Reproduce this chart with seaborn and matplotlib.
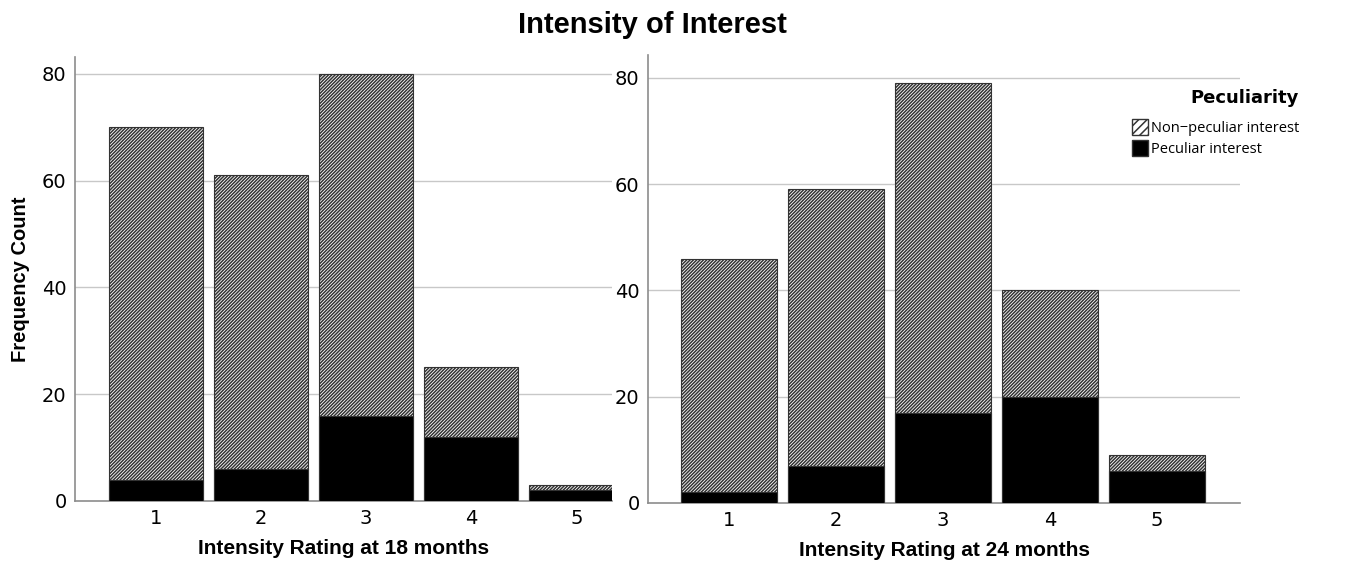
import matplotlib
matplotlib.use("Agg")
import matplotlib.pyplot as plt
import matplotlib.patches as mpatches
import seaborn as sns
import pandas as pd

ratings = ["1", "2", "3", "4", "5"]
total_18 = [70, 61, 80, 25, 3]
peculiar_18 = [4, 6, 16, 12, 2]
total_24 = [46, 59, 79, 40, 9]
peculiar_24 = [2, 7, 17, 20, 6]
yticks = [0, 20, 40, 60, 80]

sns.set_theme(style="white")
plt.rcParams["font.family"] = ["DejaVu Sans"]
plt.rcParams["hatch.linewidth"] = 1.1
plt.rcParams["text.color"] = "black"
plt.rcParams["axes.labelcolor"] = "black"

fig = plt.figure(figsize=(13.54, 5.61), dpi=100)
ax1 = fig.add_axes([0.0554, 0.107, 0.3966, 0.791])
ax2 = fig.add_axes([0.4786, 0.1034, 0.4374, 0.7986])

grid_c = "#c8c8c8"
spine_c = "#8c8c8c"
bold_font = dict(family=["Liberation Sans"], fontweight="bold", fontstretch="normal")
HATCH = "/" * 10


def draw(ax, totals, peculiar, xlabel, xlim, ylim):
    df = pd.DataFrame({"rating": ratings, "total": totals, "peculiar": peculiar})
    for yv in yticks[1:]:
        ax.axhline(yv, color=grid_c, lw=1.0, zorder=0)
    sns.barplot(data=df, x="rating", y="total", color="white", width=0.9,
                edgecolor="#333333", linewidth=0.8, saturation=1, ax=ax, zorder=2)
    for p in ax.patches:
        p.set_hatch(HATCH)
    sns.barplot(data=df, x="rating", y="peculiar", color="black", width=0.9,
                edgecolor="#333333", linewidth=0.8, saturation=1, ax=ax, zorder=3)
    ax.set_xlim(*xlim)
    ax.set_ylim(*ylim)
    ax.set_yticks(yticks)
    ax.set_xlabel(xlabel, fontsize=15, labelpad=8, **bold_font)
    ax.set_ylabel("")
    ax.tick_params(axis="both", length=0, labelsize=14, pad=6, colors="black")
    for s in ["top", "right"]:
        ax.spines[s].set_visible(False)
    for s in ["left", "bottom"]:
        ax.spines[s].set_color(spine_c)
        ax.spines[s].set_linewidth(1.2)


draw(ax1, total_18, peculiar_18, "Intensity Rating at 18 months", (-0.77, 4.34), (0, 83.1))
draw(ax2, total_24, peculiar_24, "Intensity Rating at 24 months", (-0.76, 4.78), (0, 84.3))

ax1.set_ylabel("Frequency Count", fontsize=14.5, labelpad=9, **bold_font)

fig.suptitle("Intensity of Interest", x=0.482, y=0.98, fontsize=21, **bold_font)

handles = [mpatches.Patch(facecolor="white", edgecolor="#333333", hatch="////",
                          label="Non\u2212peculiar interest"),
           mpatches.Patch(facecolor="black", edgecolor="#333333",
                          label="Peculiar interest")]
leg = ax2.legend(handles=handles, title="Peculiarity", loc="upper right",
                 bbox_to_anchor=(1.099, 0.923), frameon=False,
                 prop=dict(family=["Open Sans"], size=10.5),
                 handlelength=1.1, handleheight=1.35, handletextpad=0.2,
                 labelspacing=0.3, borderaxespad=0, borderpad=0,
                 alignment="right")
leg.get_title().set_fontweight("bold")
leg.get_title().set_fontsize(13)
leg.get_title().set_color("black")
leg._legend_box.sep = 8
for t in leg.get_texts():
    t.set_color("black")
leg.set_zorder(5)

fig.savefig("out.png", dpi=100)
